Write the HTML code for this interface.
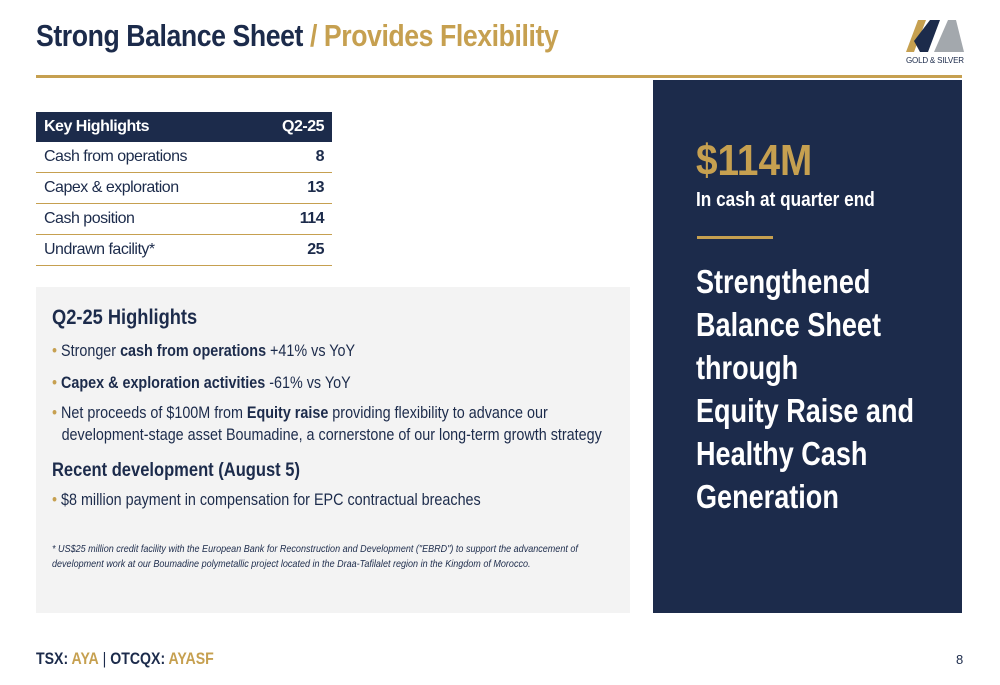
<!DOCTYPE html>
<html><head><meta charset="utf-8"><style>
body{margin:0;width:1000px;height:685px;background:#fff;position:relative;overflow:hidden;font-family:"Liberation Sans Narrow","Liberation Sans",sans-serif;color:#1c2b4b}
.a{position:absolute}
.c{transform-origin:left top}
.nav{color:#1c2b4b}.gold{color:#c6a050}
table{border-collapse:collapse}
td{height:30px;border-bottom:1.5px solid #c6a050;font-size:16px;letter-spacing:-0.5px;padding:0 8px}
</style></head><body>
<div class="a c" style="left:36px;top:18px;font-size:31px;font-weight:bold;letter-spacing:-0.5px;transform:scaleX(0.86);white-space:nowrap"><span class="nav">Strong Balance Sheet</span> <span class="gold">/ Provides Flexibility</span></div>
<svg class="a" style="left:900px;top:14px" width="70" height="52">
<polygon points="6,38 18,6 26,6 14,38" fill="#c6a050"/>
<polygon points="14,27 30,6 40,6 28,38 20,38" fill="#1c2b4b"/>
<polygon points="34,38 48,6 56,6 64,38 56,38" fill="#a3a8ad"/>
<text x="35" y="49" font-size="8" text-anchor="middle" fill="#1c2b4b" font-family="Liberation Sans,sans-serif" textLength="58">GOLD &amp; SILVER</text></svg>
<div class="a" style="left:36px;top:75px;width:926px;height:3px;background:#c6a050"></div>
<table class="a" style="left:36px;top:112px;width:296px">
<tr style="background:#1c2b4b;color:#fff"><td style="font-weight:bold;border:none">Key Highlights</td><td style="text-align:right;font-weight:bold;border:none">Q2-25</td></tr>
<tr><td>Cash from operations</td><td style="text-align:right;font-weight:bold">8</td></tr>
<tr><td>Capex &amp; exploration</td><td style="text-align:right;font-weight:bold">13</td></tr>
<tr><td>Cash position</td><td style="text-align:right;font-weight:bold">114</td></tr>
<tr><td>Undrawn facility*</td><td style="text-align:right;font-weight:bold">25</td></tr>
</table>
<div class="a" style="left:36px;top:287px;width:594px;height:326px;background:#f3f3f3"></div>
<div class="a c" style="left:52px;top:306px;font-size:21px;font-weight:bold;transform:scaleX(0.87);white-space:nowrap">Q2-25 Highlights</div>
<div class="a c" style="left:52px;top:340px;font-size:16.5px;line-height:22px;width:650px;transform:scaleX(0.87)">
<div style="margin-bottom:10px"><span class="gold">•</span> Stronger <b>cash from operations</b> +41% vs YoY</div>
<div style="margin-bottom:8px"><span class="gold">•</span> <b>Capex &amp; exploration activities</b> -61% vs YoY</div>
<div style="padding-left:11px;text-indent:-11px"><span class="gold">•</span> Net proceeds of $100M from <b>Equity raise</b> providing flexibility to advance our<br>development-stage asset Boumadine, a cornerstone of our long-term growth strategy</div></div>
<div class="a c" style="left:52px;top:460px;font-size:19px;font-weight:bold;transform:scaleX(0.87);white-space:nowrap">Recent development (August 5)</div>
<div class="a c" style="left:52px;top:491px;font-size:16.5px;transform:scaleX(0.87);white-space:nowrap"><span class="gold">•</span> $8 million payment in compensation for EPC contractual breaches</div>
<div class="a c" style="left:52px;top:542px;font-size:10.5px;font-style:italic;line-height:15px;width:640px;transform:scaleX(0.86)">* US$25 million credit facility with the European Bank for Reconstruction and Development ("EBRD") to support the advancement of<br>development work at our Boumadine polymetallic project located in the Draa-Tafilalet region in the Kingdom of Morocco.</div>
<div class="a" style="left:653px;top:80px;width:309px;height:533px;background:#1c2b4b"></div>
<div class="a gold c" style="left:696px;top:136px;font-size:44px;font-weight:bold;transform:scaleX(0.88);white-space:nowrap">$114M</div>
<div class="a c" style="left:696px;top:189px;font-size:20px;font-weight:bold;color:#fff;transform:scaleX(0.86);white-space:nowrap">In cash at quarter end</div>
<div class="a" style="left:697px;top:236px;width:76px;height:3px;background:#c6a050"></div>
<div class="a c" style="left:696px;top:260px;font-size:33px;font-weight:bold;color:#fff;line-height:43px;transform:scaleX(0.82);white-space:nowrap">Strengthened<br>Balance Sheet<br>through<br>Equity Raise and<br>Healthy Cash<br>Generation</div>
<div class="a c" style="left:36px;top:649px;font-size:17px;font-weight:bold;transform:scaleX(0.83);white-space:nowrap"><span class="nav">TSX: </span><span class="gold">AYA</span><span class="nav" style="font-weight:normal"> | </span><span class="nav">OTCQX: </span><span class="gold">AYASF</span></div>
<div class="a" style="left:956px;top:652px;font-size:13px">8</div>
</body></html>
